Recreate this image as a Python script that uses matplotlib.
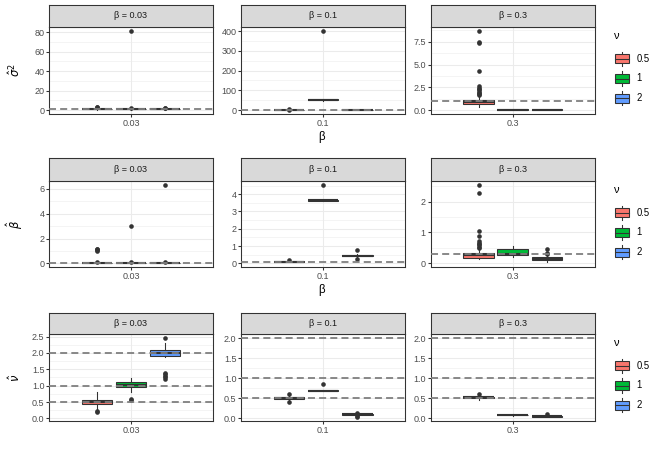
import numpy as np
import matplotlib
matplotlib.use("Agg")
import matplotlib.pyplot as plt
from matplotlib.patches import Rectangle
from matplotlib.lines import Line2D
from matplotlib.legend_handler import HandlerBase

plt.rcParams['font.family'] = ['Liberation Sans', 'DejaVu Sans']
plt.rcParams['mathtext.fontset'] = 'dejavusans'

W, H = 664, 460

betas = [0.03, 0.1, 0.3]
beta_labels = ["0.03", "0.1", "0.3"]
nu_labels = ["0.5", "1", "2"]
nu_colors = ["#F8766D", "#00BA38", "#619CFF"]

# sigma^2 hat: [beta][nu]
s2_lo = [[0.1, 0.4, 0.5], [0.1, 46, 0.02], [0.3, 0.01, 0.01]]
s2_q1 = [[0.75, 0.85, 0.88], [0.6, 50, 0.08], [0.62, 0.03, 0.03]]
s2_med = [[0.95, 1.0, 1.0], [0.9, 52, 0.12], [0.85, 0.05, 0.04]]
s2_q3 = [[1.2, 1.12, 1.1], [1.2, 54, 0.18], [1.05, 0.07, 0.06]]
s2_hi = [[1.8, 1.5, 1.4], [1.8, 57, 0.3], [1.55, 0.1, 0.09]]
s2_out = [[[3.1, 2.6], [81.5, 1.9], [1.8, 1.7]],
          [[2.8, 2.2], [402], []],
          [[8.72, 7.45, 7.35, 4.3, 2.6, 2.45, 2.3, 2.15, 2.0, 1.85, 1.75, 1.65], [], []]]
s2_true = [[1], [1], [1]]
s2_floor = [0, 0, 0]
s2_ticks = [[0, 20, 40, 60, 80], [0, 100, 200, 300, 400], [0, 2.5, 5, 7.5]]

# beta hat
b_lo = [[0.0, 0.0, 0.0], [0.05, 3.62, 0.38], [0.13, 0.2, 0.03]]
b_q1 = [[0.02, 0.02, 0.02], [0.07, 3.63, 0.42], [0.18, 0.27, 0.1]]
b_med = [[0.03, 0.03, 0.03], [0.09, 3.65, 0.45], [0.26, 0.3, 0.13]]
b_q3 = [[0.04, 0.04, 0.04], [0.11, 3.67, 0.48], [0.33, 0.48, 0.2]]
b_hi = [[0.06, 0.06, 0.06], [0.14, 3.68, 0.52], [0.44, 0.55, 0.27]]
b_out = [[[1.17, 1.12, 1.05, 0.97, 0.08], [3.0, 0.07], [6.35, 0.08]],
         [[0.18], [4.55], [0.78, 0.28]],
         [[2.55, 2.28, 1.05, 0.88, 0.72, 0.66, 0.62, 0.58, 0.54, 0.5], [], [0.46, 0.32, 0.29]]]
b_true = [[0.03], [0.1], [0.3]]
b_floor = [0, 0, 0]
b_ticks = [[0, 2, 4, 6], [0, 1, 2, 3, 4], [0, 1, 2]]

# nu hat
n_lo = [[0.3, 0.82, 1.87], [0.45, 0.68, 0.06], [0.45, 0.06, 0.03]]
n_q1 = [[0.45, 0.95, 1.92], [0.48, 0.68, 0.08], [0.5, 0.07, 0.04]]
n_med = [[0.5, 1.02, 2.0], [0.5, 0.69, 0.1], [0.52, 0.08, 0.05]]
n_q3 = [[0.57, 1.1, 2.1], [0.52, 0.7, 0.11], [0.54, 0.09, 0.06]]
n_hi = [[0.8, 1.22, 2.3], [0.55, 0.7, 0.12], [0.56, 0.1, 0.07]]
n_out = [[[0.22, 0.18], [0.58, 0.55], [2.45, 1.4, 1.35, 1.3, 1.25, 1.2]],
         [[0.6, 0.4], [0.85], [0.14, 0.06, 0.04]],
         [[0.6], [], [0.1]]]
n_true = [[0.5, 1, 2], [0.5, 1, 2], [0.5, 1, 2]]
n_floor = [0.04, 0.03, 0.03]
n_ticks = [[0, 0.5, 1, 1.5, 2, 2.5], [0, 0.5, 1, 1.5, 2], [0, 0.5, 1, 1.5, 2]]

rows = [
    (r"$\hat{\sigma}^2$", s2_lo, s2_q1, s2_med, s2_q3, s2_hi, s2_out, s2_true, s2_floor, s2_ticks, True),
    (r"$\hat{\beta}$", b_lo, b_q1, b_med, b_q3, b_hi, b_out, b_true, b_floor, b_ticks, True),
    (r"$\hat{\nu}$", n_lo, n_q1, n_med, n_q3, n_hi, n_out, n_true, n_floor, n_ticks, False),
]

# pixel layout
cols_px = [(49.3, 212.7), (241.3, 405), (430.7, 595)]
rows_px = [(5, 26.7, 114), (158.3, 180.7, 267.3), (312.7, 334.3, 421)]
legend_top = [31, 185, 338]

dark = "#333333"
lw = 1.07


def px_axes(fig, left, top, right, bottom):
    return fig.add_axes([left / W, 1 - bottom / H, (right - left) / W, (bottom - top) / H])


class BoxKey(HandlerBase):
    def create_artists(self, legend, orig_handle, xdescent, ydescent, width, height, fontsize, trans):
        x0, y0 = -xdescent, -ydescent
        cx = x0 + width / 2
        fc = orig_handle.get_facecolor()
        arts = [
            Line2D([cx, cx], [y0 + 0.1 * height, y0 + 0.25 * height], color=dark, lw=lw),
            Line2D([cx, cx], [y0 + 0.75 * height, y0 + 0.9 * height], color=dark, lw=lw),
            Rectangle((x0 + 0.06 * width, y0 + 0.25 * height), 0.88 * width, 0.5 * height,
                      facecolor=fc, edgecolor=dark, lw=lw),
            Line2D([x0 + 0.06 * width, x0 + 0.94 * width], [y0 + 0.5 * height] * 2, color=dark, lw=lw),
        ]
        for a in arts:
            a.set_transform(trans)
        return arts


fig = plt.figure(figsize=(W / 72, H / 72), dpi=72)
positions = [1 - 0.25, 1, 1 + 0.25]

for r, (ylab, lo, q1, med, q3, hi, out, true, floor, ticks, show_xlab) in enumerate(rows):
    st, pt, pb = rows_px[r]
    for c in range(3):
        left, right = cols_px[c]
        ax = px_axes(fig, left, pt, right, pb)
        stats = []
        for k in range(3):
            stats.append(dict(whislo=lo[c][k], q1=q1[c][k], med=med[c][k], q3=q3[c][k],
                              whishi=hi[c][k], fliers=out[c][k]))
        bp = ax.bxp(stats, positions=positions, widths=0.225, patch_artist=True,
                    showcaps=False, manage_ticks=False,
                    boxprops=dict(edgecolor=dark, linewidth=lw),
                    medianprops=dict(color=dark, linewidth=2.1, solid_capstyle='butt'),
                    whiskerprops=dict(color=dark, linewidth=lw),
                    flierprops=dict(marker='o', markerfacecolor=dark, markeredgecolor=dark,
                                    markersize=4.6, markeredgewidth=0))
        for patch, col in zip(bp['boxes'], nu_colors):
            patch.set_facecolor(col)
        for t in true[c]:
            ax.axhline(t, color="#7F7F7F", lw=1.8, ls=(0, (3.9, 2.3)), zorder=5)

        vals = lo[c] + hi[c] + [v for o in out[c] for v in o] + list(true[c]) + [floor[c]]
        vmin, vmax = min(vals), max(vals)
        pad = 0.05 * (vmax - vmin)
        ax.set_xlim(0.4, 1.6)

        tk = ticks[c]
        step = tk[1] - tk[0]
        fmt = "{:.0f}" if all(float(t).is_integer() for t in tk) else "{:.1f}"
        ax.set_yticks(tk)
        ax.set_yticklabels([fmt.format(t) for t in tk])
        ax.set_yticks(np.arange(tk[0] - step / 2, tk[-1] + step, step), minor=True)
        ax.set_ylim(vmin - pad, vmax + pad)
        ax.set_xticks([1])
        ax.set_xticklabels([beta_labels[c]])

        ax.grid(True, which='major', color="#EBEBEB", lw=lw, zorder=0)
        ax.grid(True, which='minor', axis='y', color="#EBEBEB", lw=0.53, zorder=0)
        ax.set_axisbelow(True)
        ax.tick_params(which='major', length=2.75, width=lw, color=dark, labelsize=9,
                       labelcolor="#4D4D4D", pad=2.2)
        ax.tick_params(which='minor', length=0)
        for s in ax.spines.values():
            s.set_color(dark)
            s.set_linewidth(lw)

        sax = px_axes(fig, left, st, right, pt)
        sax.set_facecolor("#D9D9D9")
        sax.set_xticks([])
        sax.set_yticks([])
        for s in sax.spines.values():
            s.set_color(dark)
            s.set_linewidth(lw)
        sax.text(0.5, 0.5, "β = " + beta_labels[c], ha='center', va='center',
                 fontsize=9, color="#1A1A1A", transform=sax.transAxes)

        if c == 0:
            fig.text(15 / W, 1 - (pt + pb) / 2 / H, ylab, rotation=90, ha='center',
                     va='center', fontsize=11.5)
        if c == 1 and show_xlab:
            fig.text(322 / W, 1 - (pb + 23) / H, "β", ha='center', va='center', fontsize=11.5)

    handles = [Rectangle((0, 0), 1, 1, facecolor=col) for col in nu_colors]
    leg = fig.legend(handles, nu_labels, title="ν", loc='upper left',
                     bbox_to_anchor=(614 / W, 1 - legend_top[r] / H),
                     bbox_transform=fig.transFigure, frameon=False, fontsize=9.5,
                     title_fontsize=11, handler_map={Rectangle: BoxKey()},
                     handlelength=1.7, handleheight=2.5, labelspacing=0.2,
                     handletextpad=0.7, borderpad=0, borderaxespad=0, alignment='left')
    leg._legend_box.sep = 9

fig.savefig("out.png", dpi=72)
